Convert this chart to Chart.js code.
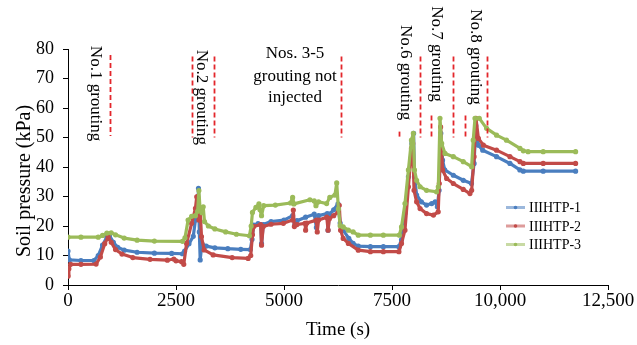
<!DOCTYPE html>
<html>
<head>
<meta charset="utf-8">
<script src="https://cdn.jsdelivr.net/npm/chart.js@4.4.0/dist/chart.umd.min.js"></script>
<style>
  html, body { margin: 0; padding: 0; background: #fff; }
  #wrap { width: 637px; height: 345px; }
</style>
</head>
<body>
<div id="wrap"><canvas id="myChart" width="637" height="345"></canvas></div>
<script>
// Серии (время в секундах, давление в кПа)
const seriesNames = ["IIIHTP-1", "IIIHTP-2", "IIIHTP-3"];
const seriesColors = ["#4a7ebf", "#c24b48", "#9bbb59"];

const time1 = [0, 30, 300, 600, 700, 800, 900, 960, 1050, 1150, 1300, 1600, 2000, 2400, 2650, 2700, 2800, 2900, 2950, 3000, 3020, 3040, 3060, 3100, 3200, 3400, 3700, 4000, 4220, 4260, 4300, 4400, 4460, 4480, 4520, 4700, 5000, 5200, 5250, 5300, 5500, 5700, 5750, 5800, 6000, 6020, 6050, 6150, 6250, 6300, 6370, 6500, 6600, 6720, 7000, 7300, 7660, 7720, 7800, 7880, 7960, 8000, 8020, 8070, 8180, 8300, 8420, 8500, 8550, 8590, 8630, 8670, 8720, 8920, 9150, 9340, 9400, 9440, 9500, 9600, 9920, 10230, 10460, 10540, 11000, 11750];
const kpa1 = [11.5, 8.5, 8.3, 8.3, 10, 13.5, 16.3, 16.8, 14.5, 12.8, 11.8, 11.1, 10.8, 10.7, 10.6, 11.5, 14, 16.5, 22, 23, 32.8, 18, 8.5, 14, 13.2, 12.6, 12.3, 12.1, 12.0, 15.5, 20.3, 20.8, 20.5, 14, 20.5, 21.5, 22, 23.5, 20.5, 21.8, 23, 24, 19.5, 23.5, 24.2, 18.6, 24, 25.5, 27.5, 21, 18.6, 15.8, 14.1, 13.2, 13, 13, 13, 15.3, 24.3, 36.7, 48, 51.4, 36.7, 30.5, 28.2, 27.1, 27.6, 28.2, 26.5, 32.1, 51.4, 42.3, 39, 37.2, 35.5, 34.4, 41.2, 54, 47.4, 45.7, 43.5, 41.2, 39, 38.6, 38.6, 38.6];

const time2 = [0, 20, 60, 300, 650, 750, 850, 930, 1000, 1100, 1250, 1500, 1900, 2300, 2450, 2500, 2630, 2680, 2745, 2862, 2950, 2980, 3000, 3030, 3060, 3090, 3150, 3360, 3800, 4170, 4230, 4270, 4300, 4460, 4480, 4520, 4700, 4985, 5200, 5216, 5240, 5300, 5486, 5500, 5530, 5750, 5770, 5800, 5990, 6020, 6050, 6150, 6257, 6280, 6310, 6370, 6490, 6720, 7000, 7300, 7660, 7720, 7800, 7880, 7950, 7980, 8010, 8070, 8150, 8300, 8460, 8570, 8595, 8625, 8670, 8765, 8920, 9150, 9305, 9344, 9400, 9444, 9500, 9615, 9920, 10230, 10463, 10540, 11000, 11750];
const kpa2 = [3, 5.5, 7, 7, 7.1, 9.5, 14, 16.3, 14.5, 12, 10.5, 9.3, 8.7, 8.4, 8.8, 8.2, 7.9, 7, 14.1, 20.9, 26, 29.9, 30, 22, 25.4, 16.4, 11.9, 10.2, 9.3, 9.0, 10, 17, 19.8, 20.5, 13.5, 19.8, 20.6, 20.9, 22, 25.4, 19.8, 20.5, 20.9, 18.6, 21, 22, 18, 22, 23, 18.6, 22.5, 23.5, 24.8, 27, 18.6, 15.8, 14.1, 11.8, 11.3, 11.3, 11.3, 14.1, 18.6, 33.3, 46.3, 48, 32.1, 28.2, 25.9, 24.2, 23.7, 24.8, 34.4, 53.6, 39, 36.1, 34.4, 32.4, 31, 32.1, 43.5, 56.5, 49.7, 47.4, 45.7, 43.5, 41.8, 41.2, 41.2, 41.2];

const time3 = [0, 300, 700, 800, 900, 1000, 1100, 1300, 1600, 2000, 2650, 2708, 2780, 2862, 2950, 3000, 3030, 3056, 3100, 3130, 3160, 3250, 3400, 3650, 3900, 4200, 4240, 4270, 4350, 4420, 4445, 4480, 4530, 4800, 5150, 5200, 5230, 5600, 5700, 5740, 5800, 5987, 6060, 6180, 6220, 6260, 6300, 6370, 6490, 6600, 6720, 7000, 7300, 7670, 7720, 7800, 7880, 7950, 7994, 8020, 8070, 8150, 8300, 8530, 8572, 8611, 8650, 8727, 8920, 9150, 9344, 9380, 9421, 9521, 9690, 9920, 10150, 10463, 10540, 10650, 11000, 11750];
const kpa3 = [16.2, 16.2, 16.2, 16.8, 17.6, 17.7, 17.0, 15.9, 15.2, 14.9, 14.8, 16, 22, 23.3, 23.5, 25, 32, 26, 24.5, 26.5, 21.5, 20, 19, 18, 17.2, 16.7, 20, 24.6, 26.3, 27.5, 25.5, 23.5, 26.9, 27.1, 27.8, 29.7, 27.5, 28.9, 28.5, 26.9, 28.2, 27.6, 29.7, 30.5, 34.6, 25.8, 20.1, 19.7, 18.6, 18, 16.9, 16.9, 16.9, 16.9, 19.7, 27.6, 39, 49.1, 51.4, 39, 35.5, 33.3, 32.1, 31.6, 33.3, 56.5, 48, 44.6, 43.5, 41.8, 40.1, 49.1, 56.5, 56.5, 53.1, 50.8, 49.1, 46.3, 45.5, 45.2, 45.2, 45.2];

// Подписи осей
const xTickLabels = ["0", "2500", "5000", "7500", "10,000", "12,500"];
const yTickValues = [0, 10, 20, 30, 40, 50, 60, 70, 80];

// Пунктирные линии закачки (время, верх и низ в кПа)
const groutLineTimes = [972, 2877, 3380, 6319, 7660, 8155, 8400, 8920, 9196, 9692];
const groutLineTop = [78, 77.5, 77.5, 77.5, 52, 77.5, 57.5, 77.5, 57.5, 77.5];
const groutLineBottom = [50.5, 50, 50, 50, 50, 50, 50, 50, 50, 50];

// Повёрнутые подписи (центр в координатах графика)
const groutLabels = ["No.1 grouting", "No.2 grouting", "No.6 grouting", "No.7 grouting", "No.8 grouting"];
const groutLabelTime = [625, 3095, 7801, 8535, 9421];
const groutLabelKpa = [64.9, 63.6, 72.0, 78.3, 77.3];

const noteLines = ["Nos. 3-5", "grouting not", "injected"];
const noteTime = 5255;
const noteKpa = [78.6, 70.8, 63.4];

function toPoints(times, values) {
  return times.map((t, i) => ({ x: t, y: values[i] }));
}

const serif = "'Liberation Serif', 'Times New Roman', serif";

// Плагин: пунктиры, подписи, заголовок оси Y и легенда
const groutingPlugin = {
  id: "grouting",
  afterDatasetsDraw(chart) {
    const ctx = chart.ctx;
    const xs = chart.scales.x;
    const ys = chart.scales.y;
    ctx.save();

    ctx.strokeStyle = "#e3262b";
    ctx.lineWidth = 1.8;
    ctx.setLineDash([5, 3]);
    groutLineTimes.forEach((t, i) => {
      const px = Math.round(xs.getPixelForValue(t)) + 0.5;
      ctx.beginPath();
      ctx.moveTo(px, ys.getPixelForValue(groutLineTop[i]));
      ctx.lineTo(px, ys.getPixelForValue(groutLineBottom[i]));
      ctx.stroke();
    });
    ctx.setLineDash([]);

    ctx.fillStyle = "#000";
    ctx.font = "17px " + serif;
    ctx.textAlign = "center";
    ctx.textBaseline = "middle";
    groutLabels.forEach((txt, i) => {
      ctx.save();
      ctx.translate(xs.getPixelForValue(groutLabelTime[i]), ys.getPixelForValue(groutLabelKpa[i]));
      ctx.rotate(Math.PI / 2);
      ctx.fillText(txt, 0, 0);
      ctx.restore();
    });
    noteLines.forEach((txt, i) => {
      ctx.fillText(txt, xs.getPixelForValue(noteTime), ys.getPixelForValue(noteKpa[i]));
    });

    // Заголовок оси Y
    ctx.font = "20px " + serif;
    ctx.save();
    ctx.translate(25, 181);
    ctx.rotate(-Math.PI / 2);
    ctx.fillText("Soil pressure (kPa)", 0, 0);
    ctx.restore();

    // Легенда
    ctx.font = "14px " + serif;
    ctx.textAlign = "left";
    seriesNames.forEach((name, i) => {
      const y = 207.5 + i * 18.5;
      ctx.globalAlpha = 0.55;
      ctx.strokeStyle = seriesColors[i];
      ctx.lineWidth = 3;
      ctx.beginPath();
      ctx.moveTo(506, y);
      ctx.lineTo(525, y);
      ctx.stroke();
      ctx.globalAlpha = 1;
      ctx.fillStyle = seriesColors[i];
      ctx.beginPath();
      ctx.arc(515.5, y, 1.8, 0, Math.PI * 2);
      ctx.fill();
      ctx.fillStyle = "#000";
      ctx.fillText(name, 529, y + 1);
    });

    ctx.restore();
  },
};

const datasets = [
  { label: seriesNames[0], data: toPoints(time1, kpa1), order: 3 },
  { label: seriesNames[1], data: toPoints(time2, kpa2), order: 2 },
  { label: seriesNames[2], data: toPoints(time3, kpa3), order: 1 },
].map((d, i) => ({
  ...d,
  borderColor: seriesColors[i],
  backgroundColor: seriesColors[i],
  borderWidth: 3.2,
  pointRadius: 1,
  pointHoverRadius: 0,
  tension: 0,
  borderJoinStyle: "round",
}));

const config = {
  type: "line",
  data: { datasets: datasets },
  options: {
    responsive: false,
    animation: false,
    devicePixelRatio: 1,
    layout: { padding: { top: 49, right: 29, bottom: 0, left: 0 } },
    plugins: {
      legend: { display: false },
      tooltip: { enabled: false },
    },
    scales: {
      x: {
        type: "linear",
        min: 0,
        max: 12500,
        afterFit: (scale) => { scale.height = 60; },
        afterBuildTicks: (scale) => {
          scale.ticks = xTickLabels.map((_, i) => ({ value: i * 2500 }));
        },
        ticks: {
          color: "#000",
          font: { family: serif, size: 19 },
          padding: 0,
          maxRotation: 0,
          autoSkip: false,
          callback: (value) => xTickLabels[Math.round(value / 2500)],
        },
        grid: { drawOnChartArea: false, drawTicks: true, tickLength: 5, color: "#000" },
        border: { color: "#000", width: 1 },
        title: {
          display: true,
          text: "Time (s)",
          color: "#000",
          font: { family: serif, size: 19, lineHeight: 1.2 },
          padding: { top: 0, bottom: 4 },
        },
      },
      y: {
        min: 0,
        max: 80,
        afterFit: (scale) => { scale.width = 68; },
        afterBuildTicks: (scale) => {
          scale.ticks = yTickValues.map((v) => ({ value: v }));
        },
        ticks: {
          color: "#000",
          font: { family: serif, size: 18 },
          padding: 9,
        },
        grid: { drawOnChartArea: false, drawTicks: true, tickLength: 5, color: "#000" },
        border: { color: "#000", width: 1 },
      },
    },
  },
  plugins: [groutingPlugin],
};

const myChart = new Chart(document.getElementById("myChart"), config);
</script>
</body>
</html>
